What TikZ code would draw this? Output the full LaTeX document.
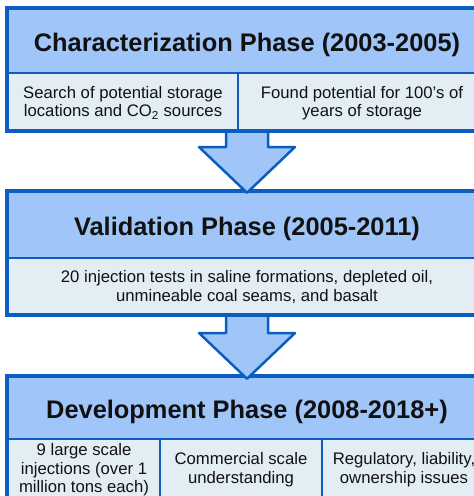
\documentclass[tikz,border=0pt]{standalone}
\usepackage{fontspec}
\setmainfont{Liberation Sans}
\usetikzlibrary{calc}
\definecolor{bord}{HTML}{0B5EC0}
\definecolor{tfill}{HTML}{A0C5F8}
\definecolor{sfill}{HTML}{E3EEF4}
\definecolor{txt}{HTML}{111111}
\begin{document}
\begin{tikzpicture}[x=1pt,y=-1pt,
  titlebox/.style={draw=bord, fill=tfill, line width=2.5pt, minimum width=478pt, inner sep=0pt,
    font=\fontsize{25.4}{30}\selectfont\bfseries, text=txt, text height=20pt, text depth=0pt},
  subbox/.style={draw=bord, fill=sfill, line width=2.5pt, inner sep=0pt, align=center,
    font=\fontsize{16.7}{18.5}\selectfont, text=txt, text depth=0pt},
  outline/.style={draw=bord, line width=3pt},
  shadowbox/.style={fill=black, opacity=0.18},
  arrowshape/.style={draw=bord, fill=tfill, line width=2.5pt, line join=round}]
\useasboundingbox (0,0) rectangle (474,496);
\clip (0,0) rectangle (474,496);

% ---- Box 3 ----
\fill[shadowbox] (9.5,379.5) rectangle (488,500);
\node[titlebox, minimum height=62pt] (title3) at (247,408) {Development Phase (2008-2018+)};
\node[subbox, minimum width=152pt, minimum height=58pt] (sub3a) at (84,468) {9 large scale\\injections (over 1\\million tons each)};
\node[subbox, minimum width=162pt, minimum height=58pt] (sub3b) at (241,468) {Commercial scale\\understanding};
\node[subbox, minimum width=164pt, minimum height=58pt] (sub3c) at (404,468) {Regulatory, liability,\\ownership issues};
\draw[outline] (title3.north west) rectangle (sub3c.south east);

% ---- Arrow 2 ----
\coordinate (a2s) at (title3.center |- 0,314);
\coordinate (a2e) at (title3.north);
\draw[arrowshape] ($(a2s)+(-21,-2)$) -- ($(a2s)+(-21,19)$) -- ($(a2s)+(-48,19)$) -- ($(a2e)+(0,3)$)
  -- ($(a2s)+(48,19)$) -- ($(a2s)+(21,19)$) -- ($(a2s)+(21,-2)$);

% ---- Box 2 ----
\fill[shadowbox] (9.5,194.5) rectangle (488,316.5);
\node[titlebox, minimum height=66pt] (title2) at (247,225) {Validation Phase (2005-2011)};
\node[subbox, minimum width=478pt, minimum height=56pt] (sub2) at (247,286) {20 injection tests in saline formations, depleted oil,\\unmineable coal seams, and basalt};
\draw[outline] (title2.north west) rectangle (sub2.south east);

% ---- Arrow 1 ----
\coordinate (a1s) at (sub2.north |- 0,130);
\coordinate (a1e) at (title2.north);
\draw[arrowshape] ($(a1s)+(-21,-2)$) -- ($(a1s)+(-21,17)$) -- ($(a1s)+(-48,17)$) -- ($(a1e)+(0,2)$)
  -- ($(a1s)+(48,17)$) -- ($(a1s)+(21,17)$) -- ($(a1s)+(21,-2)$);

% ---- Box 1 ----
\fill[shadowbox] (9.5,11.5) rectangle (488,132.5);
\node[titlebox, minimum height=64pt] (title1) at (247,41) {Characterization Phase (2003-2005)};
\node[subbox, minimum width=230pt, minimum height=57pt] (sub1a) at (123,101.5) {Search of potential storage\\locations and CO\textsubscript{2} sources};
\node[subbox, minimum width=248pt, minimum height=57pt] (sub1b) at (362,101.5) {Found potential for 100’s of\\years of storage};
\draw[outline] (title1.north west) rectangle (sub1b.south east);
\end{tikzpicture}
\end{document}
